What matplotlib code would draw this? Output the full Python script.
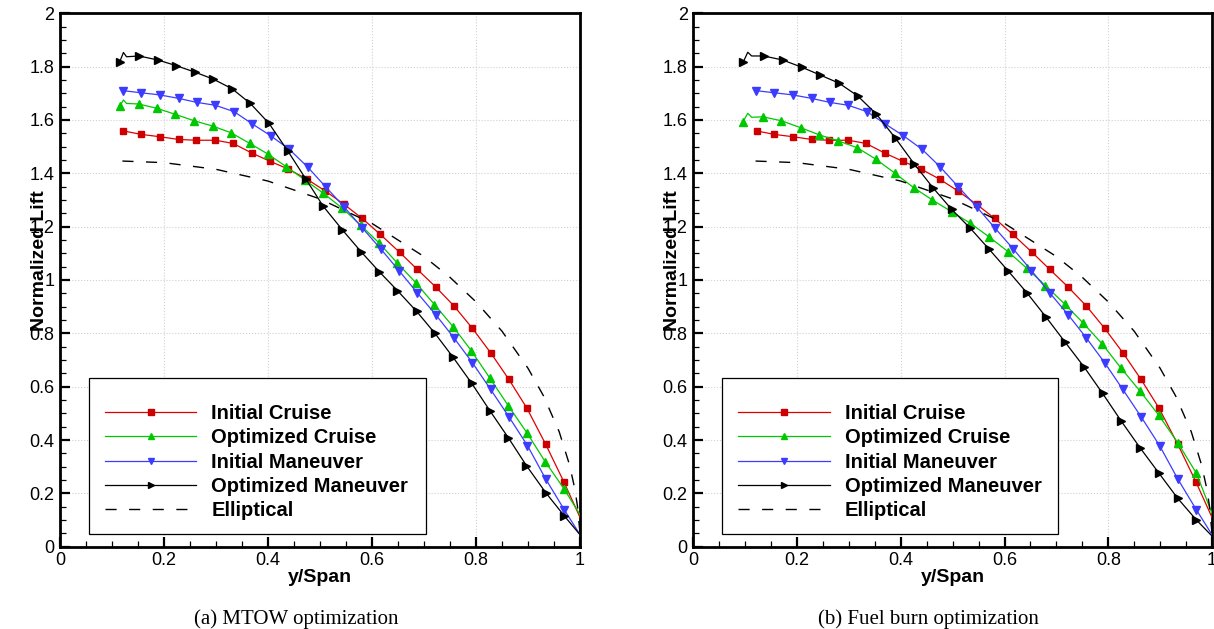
import matplotlib
matplotlib.use('Agg')
import matplotlib.pyplot as plt
import matplotlib.patches as mpatches
from matplotlib.ticker import MultipleLocator, FuncFormatter

plt.rcParams['font.family'] = ['Liberation Sans', 'DejaVu Sans']

# === Data ===
# Initial cruise / initial maneuver are the same in both panels
cruise0_x = [0.122, 0.156, 0.193, 0.228, 0.262, 0.299, 0.333, 0.370, 0.404, 0.439, 0.475, 0.510, 0.546,
             0.581, 0.616, 0.653, 0.687, 0.723, 0.758, 0.793, 0.829, 0.863, 0.898, 0.934, 0.969, 1.0]
cruise0_y = [1.559, 1.546, 1.537, 1.527, 1.524, 1.524, 1.512, 1.475, 1.445, 1.416, 1.378, 1.334, 1.284,
             1.231, 1.171, 1.104, 1.040, 0.973, 0.902, 0.819, 0.725, 0.628, 0.519, 0.384, 0.243, 0.11]

man0_x = [0.121, 0.156, 0.192, 0.228, 0.263, 0.299, 0.335, 0.370, 0.405, 0.441, 0.476, 0.511, 0.546,
          0.581, 0.617, 0.652, 0.687, 0.723, 0.758, 0.793, 0.828, 0.863, 0.899, 0.934, 0.970, 1.0]
man0_y = [1.710, 1.702, 1.694, 1.681, 1.666, 1.655, 1.631, 1.585, 1.541, 1.490, 1.424, 1.349, 1.275,
          1.196, 1.116, 1.035, 0.952, 0.869, 0.782, 0.690, 0.590, 0.488, 0.379, 0.254, 0.138, 0.045]

# (a) MTOW optimization
mtow_cruise_x = [0.115, 0.122, 0.128, 0.151, 0.186, 0.222, 0.258, 0.294, 0.329, 0.365, 0.400, 0.435, 0.471,
                 0.506, 0.543, 0.578, 0.614, 0.649, 0.685, 0.720, 0.756, 0.791, 0.827, 0.862, 0.898, 0.933,
                 0.969, 1.0]
mtow_cruise_y = [1.652, 1.675, 1.662, 1.660, 1.644, 1.621, 1.597, 1.577, 1.552, 1.512, 1.472, 1.425, 1.375,
                 1.326, 1.269, 1.206, 1.138, 1.063, 0.988, 0.908, 0.825, 0.735, 0.631, 0.529, 0.427, 0.319,
                 0.218, 0.12]
mtow_man_x = [0.115, 0.122, 0.128, 0.152, 0.188, 0.223, 0.260, 0.295, 0.331, 0.366, 0.402, 0.438, 0.473,
              0.506, 0.543, 0.579, 0.614, 0.649, 0.686, 0.721, 0.756, 0.792, 0.827, 0.862, 0.897, 0.934,
              0.970, 1.0]
mtow_man_y = [1.819, 1.853, 1.837, 1.840, 1.825, 1.804, 1.779, 1.753, 1.717, 1.662, 1.587, 1.484, 1.378,
              1.277, 1.188, 1.106, 1.031, 0.960, 0.882, 0.800, 0.710, 0.612, 0.509, 0.409, 0.304, 0.203,
              0.115, 0.045]

# (b) Fuel burn optimization
fuel_cruise_x = [0.096, 0.105, 0.1125, 0.134, 0.170, 0.207, 0.243, 0.279, 0.316, 0.352, 0.389, 0.425, 0.461,
                 0.498, 0.534, 0.570, 0.607, 0.643, 0.679, 0.716, 0.751, 0.788, 0.824, 0.861, 0.897, 0.934,
                 0.970, 1.0]
fuel_cruise_y = [1.594, 1.625, 1.610, 1.612, 1.597, 1.571, 1.544, 1.522, 1.496, 1.453, 1.400, 1.346, 1.300,
                 1.256, 1.213, 1.162, 1.106, 1.044, 0.979, 0.910, 0.840, 0.761, 0.671, 0.584, 0.494, 0.390,
                 0.275, 0.125]
fuel_man_x = [0.096, 0.105, 0.1125, 0.136, 0.172, 0.209, 0.244, 0.281, 0.317, 0.353, 0.390, 0.426, 0.462,
              0.498, 0.534, 0.570, 0.607, 0.644, 0.680, 0.716, 0.753, 0.789, 0.825, 0.862, 0.898, 0.934,
              0.970, 1.0]
fuel_man_y = [1.816, 1.854, 1.840, 1.840, 1.825, 1.798, 1.769, 1.738, 1.690, 1.622, 1.531, 1.435, 1.346,
              1.265, 1.194, 1.116, 1.034, 0.950, 0.861, 0.769, 0.675, 0.575, 0.471, 0.369, 0.275, 0.181,
              0.100, 0.04]

ellip_x = [0.12, 0.2, 0.3, 0.4, 0.5, 0.6, 0.7, 0.75, 0.8, 0.85, 0.9, 0.93, 0.96, 0.98, 0.99, 0.995, 1.0]
ellip_y = [1.446, 1.440, 1.415, 1.371, 1.304, 1.212, 1.088, 1.010, 0.918, 0.808, 0.669, 0.565, 0.431,
           0.306, 0.217, 0.154, 0.05]

labels = ['Initial Cruise', 'Optimized Cruise', 'Initial Maneuver', 'Optimized Maneuver', 'Elliptical']
captions = ['(a) MTOW optimization', '(b) Fuel burn optimization']

RED, GREEN, BLUE = '#e00000', '#00c800', '#3c3cff'


def marks(n, skip=()):
    # marker on every point except the kink points and the tip point
    return [i for i in range(n - 1) if i not in skip]


def draw_panel(ax, cruise_x, cruise_y, man_x, man_y, caption):
    ax.grid(True, which='major', linestyle=':', color='#d0d0d0', linewidth=0.8, zorder=0)
    ax.plot(cruise0_x, cruise0_y, color=RED, lw=0.9, marker='s', ms=5, mfc='#cc0000', mec='#cc0000',
            markevery=marks(len(cruise0_x)), label=labels[0], zorder=3)
    ax.plot(cruise_x, cruise_y, color=GREEN, lw=0.9, marker='^', ms=5.8, mfc=GREEN, mec=GREEN,
            markevery=marks(len(cruise_x), (1, 2)), label=labels[1], zorder=3)
    ax.plot(man0_x, man0_y, color=BLUE, lw=0.9, marker='v', ms=5.8, mfc=BLUE, mec=BLUE,
            markevery=marks(len(man0_x)), label=labels[2], zorder=3)
    ax.plot(man_x, man_y, color='black', lw=0.9, marker='>', ms=5.5, mfc='black', mec='black',
            markevery=marks(len(man_x), (1, 2)), label=labels[3], zorder=3)
    ax.plot(ellip_x, ellip_y, color='black', lw=1.0, ls=(0, (8, 9)), label=labels[4], zorder=3)

    ax.set_xlim(0, 1)
    ax.set_ylim(0, 2)
    ax.xaxis.set_major_locator(MultipleLocator(0.2))
    ax.xaxis.set_minor_locator(MultipleLocator(0.05))
    ax.yaxis.set_major_locator(MultipleLocator(0.2))
    ax.yaxis.set_minor_locator(MultipleLocator(0.05))
    fmt = FuncFormatter(lambda v, p: f'{v:.1f}'.rstrip('0').rstrip('.') if abs(v) > 1e-9 else '0')
    ax.xaxis.set_major_formatter(fmt)
    ax.yaxis.set_major_formatter(fmt)
    ax.tick_params(which='major', direction='in', length=7, width=1.6, labelsize=13, pad=4,
                   top=False, right=False)
    ax.tick_params(which='minor', direction='in', length=4, width=0.9, top=False, right=False)
    for s in ax.spines.values():
        s.set_linewidth(2.0)

    ax.set_xlabel('y/Span', fontsize=14, fontweight='bold', labelpad=0)
    # label sits on top of the tick numbers, as in the original
    ax.set_ylabel('Normalized Lift', fontsize=14, fontweight='bold')
    ax.yaxis.set_label_coords(-0.024, 0.536)

    # legend box drawn by hand, entries placed inside it
    box = mpatches.Rectangle((0.056, 0.024), 0.648, 0.292, transform=ax.transAxes,
                             facecolor='white', edgecolor='black', lw=0.9, zorder=5)
    ax.add_patch(box)
    leg = ax.legend(loc='upper left', bbox_to_anchor=(0.086, 0.268), frameon=False, borderpad=0,
                    borderaxespad=0, handlelength=4.55, handletextpad=0.75, labelspacing=0.27,
                    numpoints=1, markerscale=0.8, prop={'weight': 'bold', 'size': 14.5})
    leg.set_zorder(6)

    pos = ax.get_position()
    ax.figure.text(pos.x0 + pos.width / 2 - 24 / 1214, 0.008, caption, ha='center', va='baseline',
                   fontsize=15, family=['Liberation Serif', 'DejaVu Serif'])


fig = plt.figure(figsize=(12.14, 6.29), dpi=100)
ax1 = fig.add_axes([60 / 1214, 1 - 546.7 / 629, 520 / 1214, 533.4 / 629])
ax2 = fig.add_axes([693.3 / 1214, 1 - 546.7 / 629, 518.7 / 1214, 533.4 / 629])

draw_panel(ax1, mtow_cruise_x, mtow_cruise_y, mtow_man_x, mtow_man_y, captions[0])
draw_panel(ax2, fuel_cruise_x, fuel_cruise_y, fuel_man_x, fuel_man_y, captions[1])

fig.savefig('out.png', dpi=100)
